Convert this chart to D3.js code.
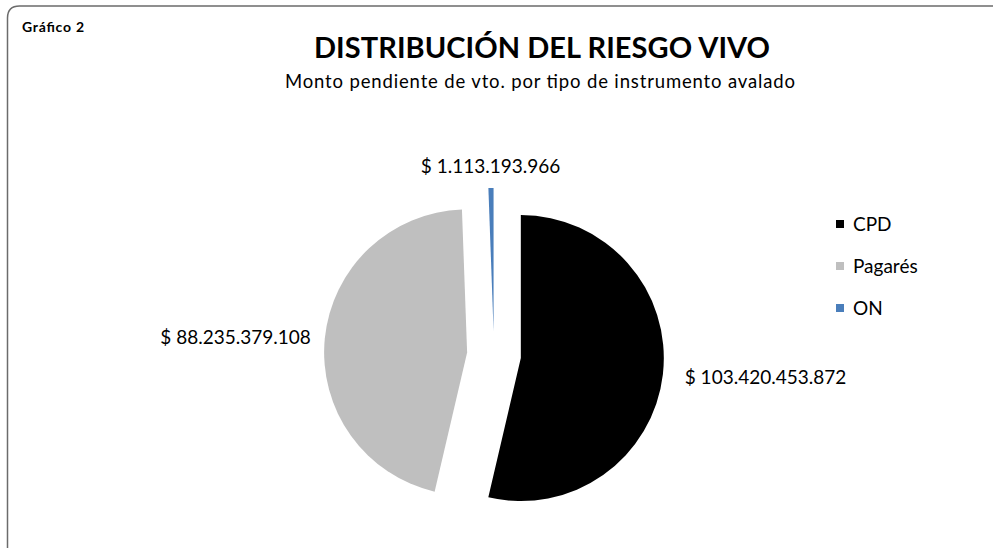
<!DOCTYPE html>
<html><head><meta charset="utf-8">
<script src="https://cdn.jsdelivr.net/npm/d3@7"></script>
<style>
html,body{margin:0;padding:0;background:#fff;}
svg{display:block;font-family:Lato,"Open Sans",sans-serif;}
</style></head>
<body>
<svg id="chart" width="993" height="548"></svg>
<script>
const categories = ["CPD", "Pagarés", "ON"];
const values = [103420453872, 88235379108, 1113193966];
const valueLabels = ["$ 103.420.453.872", "$ 88.235.379.108", "$ 1.113.193.966"];
const colors = ["#000000", "#bfbfbf", "#4a7ebb"];
const title = "DISTRIBUCIÓN DEL RIESGO VIVO";
const subtitle = "Monto pendiente de vto. por tipo de instrumento avalado";
const chartTag = "Gráfico 2";

const svg = d3.select("#chart");

// frame with rounded top-left corner, running off right and bottom
svg.append("path")
  .attr("d", "M7.5,548 L7.5,18 Q7.5,6 19.5,6 L993,6")
  .attr("fill", "none").attr("stroke", "#6b6b6b").attr("stroke-width", 1.5);

svg.append("text").attr("x", 22).attr("y", 32)
  .attr("font-size", 14).attr("font-weight", "bold").attr("fill", "#000")
  .attr("textLength", 62).attr("lengthAdjust", "spacing")
  .text(chartTag);

svg.append("text").attr("x", 542).attr("y", 58).attr("text-anchor", "middle")
  .attr("font-size", 29).attr("font-weight", "bold").attr("fill", "#000")
  .attr("textLength", 456).attr("lengthAdjust", "spacing")
  .text(title);

svg.append("text").attr("x", 540).attr("y", 88).attr("text-anchor", "middle")
  .attr("font-size", 18.5).attr("fill", "#000")
  .attr("textLength", 510).attr("lengthAdjust", "spacing")
  .text(subtitle);

const cx = 494, cy = 355, r = 143, explode = 27;
const labelPad = [22, 14, 22];
const pie = d3.pie().sort(null).value(d => d.v).startAngle(0).endAngle(2 * Math.PI);
const data = pie(categories.map((c, i) => ({c, v: values[i], label: valueLabels[i], color: colors[i]})));
const arc = d3.arc().innerRadius(0).outerRadius(r);

const g = svg.append("g").attr("transform", `translate(${cx},${cy})`);

data.forEach((d, i) => {
  const mid = (d.startAngle + d.endAngle) / 2;
  const off = i === 2 ? 24 : explode;
  const dx = Math.sin(mid) * off, dy = -Math.cos(mid) * off;
  const sg = g.append("g").attr("transform", `translate(${dx},${dy})`);
  sg.append("path").attr("d", arc(d)).attr("fill", d.data.color);
  const la = d3.arc().innerRadius(r + labelPad[i]).outerRadius(r + labelPad[i]);
  const [lx, ly] = la.centroid(d);
  const anchor = Math.abs(Math.sin(mid)) < 0.3 ? "middle" : (Math.sin(mid) > 0 ? "start" : "end");
  sg.append("text")
    .attr("x", lx).attr("y", ly)
    .attr("dy", "0.35em")
    .attr("text-anchor", anchor)
    .attr("font-size", 19).attr("fill", "#000")
    .text(d.data.label);
});

// legend
const legend = svg.append("g").attr("transform", "translate(836,224)");
categories.forEach((c, i) => {
  const row = legend.append("g").attr("transform", `translate(0,${i * 42})`);
  row.append("rect").attr("x", 0).attr("y", -4).attr("width", 8).attr("height", 8).attr("fill", colors[i]);
  row.append("text").attr("x", 17).attr("y", 0).attr("dy", "0.35em")
    .attr("font-size", 19).attr("fill", "#000").text(c);
});
</script>
</body></html>
